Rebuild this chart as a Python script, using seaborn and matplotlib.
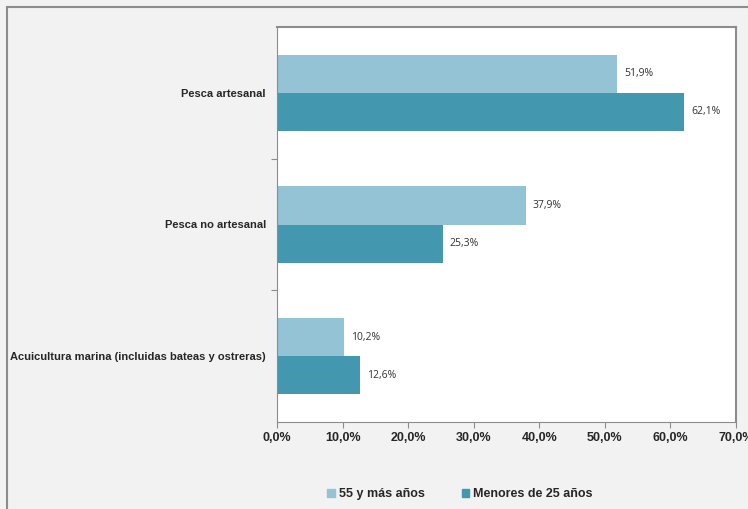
import matplotlib
matplotlib.use('Agg')
import matplotlib.pyplot as plt
import matplotlib.patches as mpatches
import seaborn as sns
import pandas as pd

# Datos
categorias = ['Pesca artesanal', 'Pesca no artesanal',
              'Acuicultura marina (incluidas bateas y ostreras)']
grupos = ['55 y más años', 'Menores de 25 años']
valores_55 = [51.9, 37.9, 10.2]
valores_menores = [62.1, 25.3, 12.6]
xticks = [0, 10, 20, 30, 40, 50, 60, 70]

df = pd.DataFrame({
    'Categoria': categorias * 2,
    'Grupo': [grupos[0]] * 3 + [grupos[1]] * 3,
    'Valor': valores_55 + valores_menores,
})

palette = ['#93c3d5', '#4398b0']

sns.set_style('white')
plt.rcParams['font.family'] = ['Liberation Sans', 'DejaVu Sans']

fig = plt.figure(figsize=(7.48, 5.09), dpi=100)
fig.patch.set_facecolor('#f2f2f2')
# Marco exterior
fig.patches.append(mpatches.Rectangle((7 / 748, -0.05), 1.2, 1 - 6.5 / 509 + 0.05,
                                      transform=fig.transFigure, fill=False,
                                      edgecolor='#8c8c8c', linewidth=1.5))

ax = fig.add_axes([277 / 748, 87 / 509, 459 / 748, 395 / 509])
ax.set_facecolor('white')
sns.barplot(data=df, y='Categoria', x='Valor', hue='Grupo', hue_order=grupos,
            palette=palette, orient='h', width=0.58, saturation=1,
            edgecolor='none', ax=ax, legend=False)

ax.set_xlim(0, 70)
ax.set_ylim(2.5, -0.5)
ax.set_xticks(xticks)
ax.set_xticklabels([f'{v:.1f}%'.replace('.', ',') for v in xticks],
                   fontsize=9, fontweight='bold')
ax.set_yticks(range(3))
ax.set_yticklabels(categorias, fontsize=8, fontweight='bold')
ax.set_yticks([0.5, 1.5], minor=True)
ax.tick_params(axis='y', which='major', length=0, pad=8)
ax.tick_params(axis='y', which='minor', left=True, length=4, width=0.8,
               color='#8c8c8c', direction='out')
ax.tick_params(axis='x', which='major', bottom=True, length=4, width=0.8,
               color='#8c8c8c', direction='out', pad=3)
ax.set(xlabel='', ylabel='')

for lado in ['left', 'bottom']:
    ax.spines[lado].set_color('#8c8c8c')
    ax.spines[lado].set_linewidth(0.8)
for lado in ['top', 'right']:
    ax.spines[lado].set_color('#8c8c8c')
    ax.spines[lado].set_linewidth(1.5)

# Rótulos de valores
for container in ax.containers:
    etiquetas = [f'{b.get_width():.1f}%'.replace('.', ',') for b in container]
    ax.bar_label(container, labels=etiquetas, padding=5, fontsize=7.5,
                 color='#333333', family='Open Sans')

# Leyenda
handles = [mpatches.Patch(color=c, label=g) for c, g in zip(palette, grupos)]
fig.legend(handles=handles, loc='center', bbox_to_anchor=(460 / 748, 15 / 509),
           ncol=2, frameon=False, handlelength=0.6, handleheight=0.6,
           handletextpad=0.3, columnspacing=3.0,
           prop={'size': 9, 'weight': 'bold'})

fig.savefig('out.png', dpi=100, facecolor=fig.get_facecolor())
